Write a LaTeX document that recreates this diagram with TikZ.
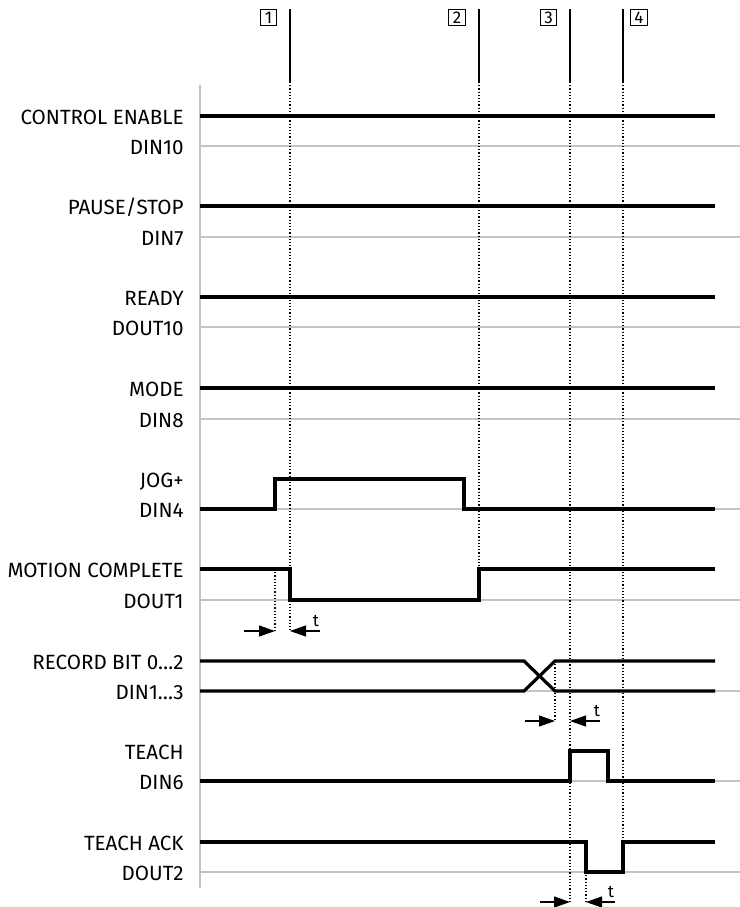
\documentclass[tikz,border=0pt]{standalone}
\usepackage{fontspec}
\setmainfont{Fira Sans}
\usetikzlibrary{arrows.meta, positioning, calc}
\definecolor{gridgray}{HTML}{C4C4C4}

\begin{document}
\begin{tikzpicture}[x=0.5pt, y=-0.5pt, >={Triangle[length=8pt, width=5.5pt]},
  sig/.style={line width=1.6pt},
  gridline/.style={gridgray, line width=1pt},
  markline/.style={line width=0.75pt},
  dotline/.style={densely dotted, line width=0.6pt},
  tarrow/.style={->, line width=0.6pt},
  numbox/.style={draw, line width=0.6pt, minimum size=8.2pt, inner sep=0pt, font=\fontsize{8.5}{9}\selectfont},
  lbl/.style={anchor=east, inner sep=0pt, text height=0.69em, text depth=0pt, font=\fontsize{10.3}{12}\selectfont},
  tlbl/.style={inner sep=0pt, font=\fontsize{8.5}{9}\selectfont}]
  \useasboundingbox (0,0) rectangle (740,907);

  % axis and gray base lines
  \draw[gridgray, line width=1.4pt] (200,85) -- (200,888);
  \foreach \y in {146,237,327,419,509,600,691,781,872}
    \draw[gridline] (200,\y) -- (740,\y);

  % signal names
  \foreach \n/\hi/\lo/\name/\pin in {1/116/146/CONTROL ENABLE/DIN10, 2/206/237/PAUSE\slash STOP/DIN7,
      3/297/327/READY/DOUT10, 4/388/419/MODE/DIN8, 5/479/509/JOG+/DIN4,
      6/569/600/MOTION COMPLETE/DOUT1, 7/661/691/RECORD BIT 0…2/DIN1…3,
      8/751/781/TEACH/DIN6, 9/842/872/TEACH ACK/DOUT2} {
    \node[lbl] (name\n) at (184,\hi+2) {\name};
    \node[lbl] (pin\n) at (184,\lo+2) {\pin};
  }

  % constant signals
  \foreach \y in {116,206,297,388}
    \draw[sig] (200,\y) -- (715,\y);

  \coordinate (jogup) at (275,479);
  \coordinate (jogdown) at (464,509);
  \coordinate (mcdown) at (290,600);
  \coordinate (mcup) at (479,569);
  \coordinate (rbend) at (555,661);
  \coordinate (teachup) at (570,751);
  \coordinate (teachdown) at (608,781);
  \coordinate (ackdown) at (586,872);
  \coordinate (ackup) at (623,842);

  \draw[sig] (200,509) -| (jogup) -| (jogdown) -- (715,509);
  \draw[sig] (200,569) -| (mcdown) -| (mcup) -- (715,569);
  \draw[sig] (200,661) -- (524,661) -- (555,691) -- (715,691);
  \draw[sig] (200,691) -- (524,691) -- (rbend) -- (715,661);
  \draw[sig] (200,781) -| (teachup) -| (teachdown) -- (715,781);
  \draw[sig] (200,842) -| (ackdown) -| (ackup) -- (715,842);

  % event markers
  \foreach \n/\x/\bx/\yend in {1/290/268.5/631, 2/479/457/569, 3/570/548.5/902, 4/623/639/842} {
    \node[numbox] (box\n) at (\bx,17.5) {\n};
    \coordinate (top\n) at (\x,9);
    \draw[markline] (top\n) -- (\x,82);
    \draw[dotline] (\x,82) -- (\x,\yend);
  }

  % delay times
  \draw[dotline] (jogup |- mcup) -- (275,631);
  \coordinate (ta1) at (244,631);
  \coordinate (tb1) at (320,631);
  \draw[tarrow] (ta1) -- (275,631);
  \draw[tarrow] (tb1) -- (290,631);
  \node[tlbl] (t1) at (316,621) {t};

  \draw[dotline] (rbend) -- (555,721);
  \coordinate (ta2) at (525,721);
  \coordinate (tb2) at (600,721);
  \draw[tarrow] (ta2) -- (555,721);
  \draw[tarrow] (tb2) -- (570,721);
  \node[tlbl] (t2) at (597,711) {t};

  \draw[dotline] (ackdown) -- (586,902);
  \coordinate (ta3) at (540,902);
  \coordinate (tb3) at (615,902);
  \draw[tarrow] (ta3) -- (570,902);
  \draw[tarrow] (tb3) -- (586,902);
  \node[tlbl] (t3) at (611,892) {t};
\end{tikzpicture}
\end{document}
